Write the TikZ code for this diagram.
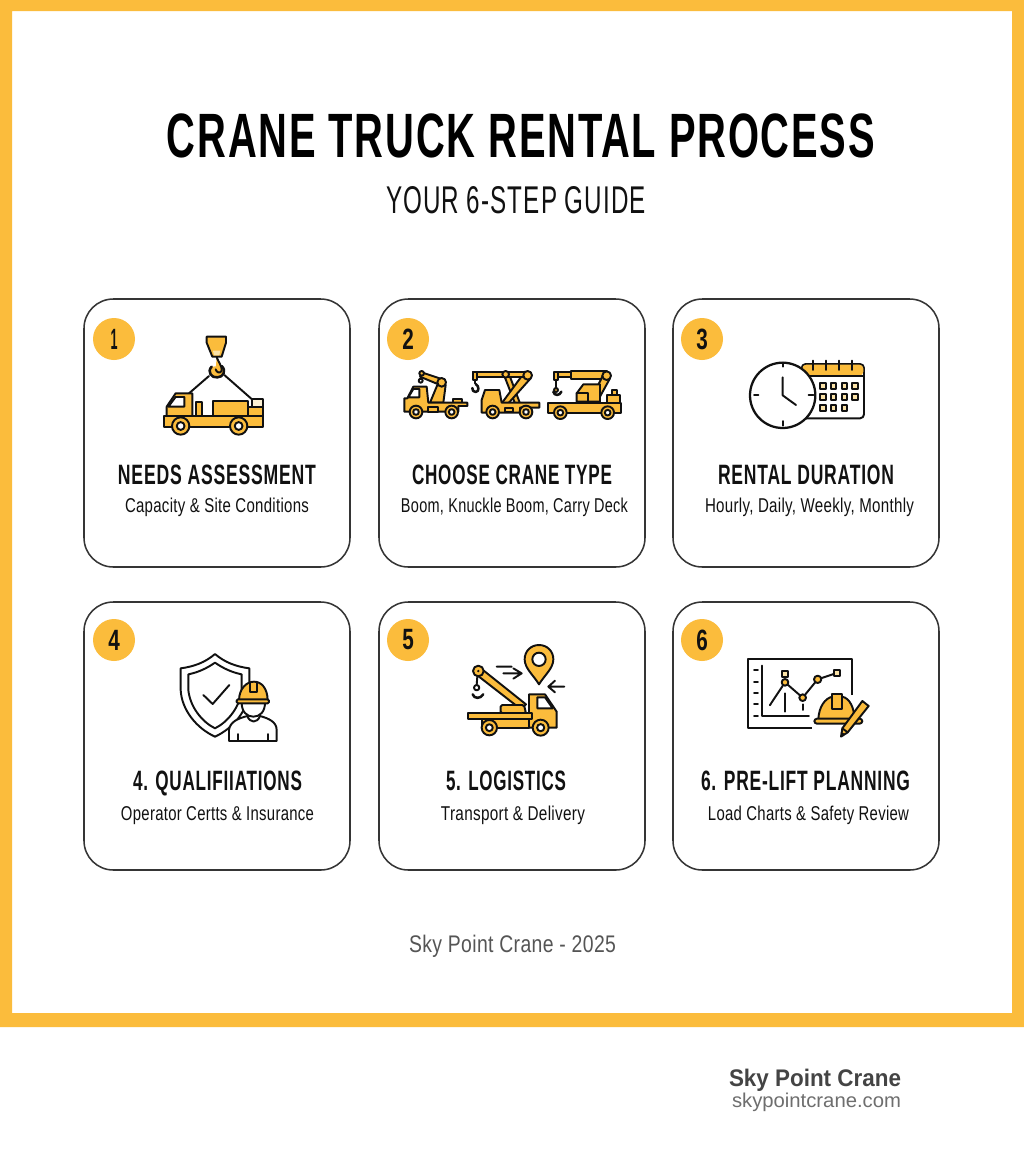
\documentclass[tikz,border=0pt]{standalone}
\usepackage{fontspec}
\setmainfont[LetterSpace=2]{Liberation Sans}
\newfontfamily\headfont[LetterSpace=4.5]{Liberation Sans}
\newfontfamily\brandfont{Liberation Sans}
\definecolor{amber}{HTML}{FBBC3C}
\definecolor{ink}{HTML}{111111}
\definecolor{pale}{HTML}{FBE3A8}
\definecolor{foot}{HTML}{555555}
\definecolor{brand}{HTML}{444444}
\definecolor{url}{HTML}{6E6E6E}
\newlength\pxu \pxu=0.75pt
\newcommand\fit[2]{\resizebox{#1\pxu}{\height}{#2}}
\tikzset{
  ln/.style={draw=ink,line width=1.45pt,line join=round,line cap=round},
  am/.style={ln,fill=amber},
  wh/.style={ln,fill=white},
  icon/.style={shift={(#1)},scale=1/3},
  card/.style={draw=ink!85,line width=1.15pt,fill=white,rounded corners=22pt,minimum width=199.5pt,minimum height=201pt,inner sep=0pt},
  badge/.style={circle,fill=amber,minimum size=31.5pt,inner sep=0pt,text=ink},
  ctitle/.style={anchor=base,inner sep=0pt,text=ink,font=\headfont\bfseries\fontsize{21}{22}\selectfont},
  csub/.style={anchor=base,inner sep=0pt,text=ink,font=\fontsize{15}{16}\selectfont},
}
\newcommand\wheelat[3]{\fill[ln,fill=amber] (#1,#2) circle (#3); \fill[ln,fill=white] (#1,#2) circle ({#3*0.45});}
\newcommand\digit[1]{\fit{11.5}{\bfseries\fontsize{22}{22}\selectfont #1}}
\begin{document}
\begin{tikzpicture}[x=0.75pt,y=-0.75pt]
\useasboundingbox (0,0) rectangle (1024,1154);
\fill[white] (0,0) rectangle (1024,1154);
\fill[amber,even odd rule] (0,0) rectangle (1024,1027) (12,11) rectangle (1012,1013);
\node[anchor=base,inner sep=0pt,text=black,font=\headfont\bfseries\fontsize{47}{52}\selectfont] (title) at (521,157) {\fit{708}{CRANE TRUCK RENTAL PROCESS}};
\node[anchor=base,inner sep=0pt,text=ink,font=\headfont\fontsize{29}{32}\selectfont] (subtitle) at (516,213) {\fit{260}{YOUR 6-STEP GUIDE}};
% cards
\node[card] (c1) at (217,433) {};
\node[card] (c2) at (512,433) {};
\node[card] (c3) at (806,433) {};
\node[card] (c4) at (217,736) {};
\node[card] (c5) at (512,736) {};
\node[card] (c6) at (806,736) {};
\node[badge] (b1) at (114,339) {\fit{7}{\bfseries\fontsize{22}{22}\selectfont 1}};
\node[badge] (b2) at (408,339) {\digit{2}};
\node[badge] (b3) at (702,339) {\digit{3}};
\node[badge] (b4) at (114,640) {\digit{4}};
\node[badge] (b5) at (408,640) {\digit{5}};
\node[badge] (b6) at (702,640) {\digit{6}};
\node[ctitle] (t1) at (217,484) {\fit{198}{NEEDS ASSESSMENT}};
\node[csub] (s1) at (217,512) {\fit{184}{Capacity \& Site Conditions}};
\node[ctitle] (t2) at (512,484) {\fit{200}{CHOOSE CRANE TYPE}};
\node[csub] (s2) at (514.5,512) {\fit{227}{Boom, Knuckle Boom, Carry Deck}};
\node[ctitle] (t3) at (806,484) {\fit{176}{RENTAL DURATION}};
\node[csub] (s3) at (809.5,512) {\fit{209}{Hourly, Daily, Weekly, Monthly}};
\node[ctitle] (t4) at (217.5,790) {\fit{169}{4. QUALIFIIATIONS}};
\node[csub] (s4) at (217.5,820) {\fit{193}{Operator Certts \& Insurance}};
\node[ctitle] (t5) at (506,790) {\fit{120}{5. LOGISTICS}};
\node[csub] (s5) at (513,820) {\fit{144}{Transport \& Delivery}};
\node[ctitle] (t6) at (805.5,790) {\fit{209}{6. PRE-LIFT PLANNING}};
\node[csub] (s6) at (808.5,820) {\fit{201}{Load Charts \& Safety Review}};
\node[anchor=base,inner sep=0pt,text=foot,font=\fontsize{18}{20}\selectfont] (footer) at (512.5,952) {\fit{207}{Sky Point Crane - 2025}};
\node[anchor=base,inner sep=0pt,text=brand,font=\brandfont\bfseries\fontsize{18}{20}\selectfont] (brandname) at (815,1086) {\fit{172}{Sky Point Crane}};
\node[anchor=base,inner sep=0pt,text=url,font=\brandfont\fontsize{15}{16}\selectfont] (brandurl) at (816.5,1107) {\fit{169}{skypointcrane.com}};

% ICON 1
\begin{scope}[icon={85,300}]
\draw[am] (365,110) -- (423,110) -- (423,128) -- (410,170) -- (382,170) -- (365,128) -- cycle;
\fill[pale] (384,152) -- (406,152) -- (403,166) -- (387,166) -- cycle;
\draw[ln] (372,228) -- (312,280) (418,225) -- (500,297);
\draw[am,line width=1.9pt] (380,200) .. controls (365,215) and (380,235) .. (397,232) .. controls (415,232) and (425,212) .. (410,198);
\draw[ln,fill=amber] (395,172) .. controls (400,185) and (412,200) .. (410,212) .. controls (405,222) and (395,218) .. (392,208);
\draw[am] (245,348) -- (245,320) -- (272,280) -- (322,280) -- (322,348) -- cycle;
\draw[wh] (250,320) -- (272,291) -- (298,291) -- (298,320) -- cycle;
\draw[am] (332,305) rectangle (350,348);
\draw[am] (385,302) rectangle (490,348);
\draw[am] (490,322) rectangle (535,348);
\draw[ln,fill=pale!50] (502,298) rectangle (535,322);
\draw[am] (237,348) rectangle (535,380);
\wheelat{287}{378}{26}
\wheelat{461}{378}{26}
\end{scope}

% ICON 2
\begin{scope}[icon={380,340}]
% truck A
\draw[am] (125,97) -- (188,118) -- (180,135) -- (120,110) -- cycle;
\draw[am] (150,188) -- (172,135) -- (197,135) -- (190,188) -- cycle;
\draw[am] (185,127) circle (13);
\draw[am] (125,100) circle (7);
\draw[wh] (122,122) circle (6);
\draw[am] (220,178) rectangle (245,188);
\draw[am] (73,215) -- (73,175) -- (82,175) -- (100,140) -- (140,140) -- (145,188) -- (262,188) -- (262,198) -- (235,198) -- (235,215) -- cycle;
\draw[wh] (85,172) -- (100,147) -- (118,147) -- (118,172) -- cycle;
\draw[am] (145,200) rectangle (175,215);
\wheelat{108}{216}{19}
\wheelat{215}{216}{19}
% truck B
\draw[am] (370,100) -- (385,97) -- (420,190) -- (405,190) -- cycle;
\draw[am] (435,95) -- (452,115) -- (385,190) -- (365,190) -- cycle;
\draw[am] (280,97) rectangle (445,112);
\draw[am] (377,103) circle (10);
\draw[am] (443,106) circle (13);
\draw[am] (279,95) rectangle (290,120);
\draw[ln] (285,120) -- (285,130);
\draw[ln,line width=1.9pt] (287,132) .. controls (298,138) and (298,155) .. (287,156) .. controls (280,156) and (276,150) .. (277,144);
\draw[am] (305,215) -- (305,180) -- (315,150) -- (358,150) -- (365,188) -- (478,188) -- (478,203) -- (420,203) -- (420,218) -- (305,218) -- cycle;
\draw[am] (375,203) rectangle (400,216);
\wheelat{338}{216}{19}
\wheelat{438}{216}{19}
% truck C
\draw[am] (525,97) rectangle (575,112);
\draw[am] (522,95) rectangle (533,120);
\draw[ln] (528,120) -- (528,142);
\draw[am] (528,150) circle (6);
\draw[ln,line width=1.9pt] (520,155) .. controls (522,168) and (540,168) .. (544,155);
\draw[am] (572,92) -- (680,92) -- (680,118) -- (572,118) -- cycle;
\draw[am] (672,100) -- (690,115) -- (650,188) -- (628,188) -- cycle;
\draw[am] (680,107) circle (13);
\draw[am] (590,185) -- (590,160) -- (610,133) -- (660,133) -- (660,185) -- cycle;
\draw[ln] (590,160) -- (625,160) -- (625,185);
\draw[am] (695,150) rectangle (710,165);
\draw[am] (680,165) rectangle (720,190);
\draw[am] (505,190) -- (722,190) -- (722,218) -- (505,218) -- cycle;
\wheelat{541}{218}{19}
\wheelat{683}{218}{19}
\end{scope}

% ICON 3
\begin{scope}[icon={730,340}]
\draw[wh,rounded corners=3pt] (215,72) rectangle (402,235);
\fill[amber,rounded corners=3pt] (217,74) rectangle (400,107);
\draw[ln] (215,108) -- (402,108);
\foreach \cx in {250,289,328,366} \draw[ln] (\cx,62) -- (\cx,90);
\foreach \rowy/\cols in {138/{279,311,343,375},171/{279,311,343,375},204/{279,311,343}}
  \foreach \cx in \cols \draw[ln,fill=pale] (\cx-8,\rowy-8) rectangle (\cx+8,\rowy+8);
\draw[wh,line width=1.7pt] (158,166) circle (98);
\draw[ln] (158,68) -- (158,80) (158,243) -- (158,257) (72,166) -- (85,166) (236,166) -- (250,166);
\draw[ln] (158,112) -- (158,166) -- (198,195);
\end{scope}

% ICON 4
\begin{scope}[icon={160,640}]
\draw[wh] (165,42) .. controls (135,68) and (100,80) .. (62,85) -- (62,150) .. controls (65,210) and (110,265) .. (165,290) .. controls (220,265) and (265,210) .. (268,150) -- (268,85) .. controls (230,80) and (195,68) .. (165,42) -- cycle;
\draw[ln] (165,68) .. controls (140,85) and (115,97) .. (85,103) -- (85,150) .. controls (90,200) and (125,245) .. (165,265) .. controls (205,245) and (240,200) .. (245,150) -- (245,103) .. controls (215,97) and (190,85) .. (165,68) -- cycle;
\draw[ln] (130,165) -- (158,192) -- (208,135);
\draw[wh] (207,303) -- (207,270) .. controls (210,245) and (235,235) .. (262,228) .. controls (270,250) and (292,250) .. (300,228) .. controls (325,235) and (350,245) .. (350,270) -- (350,303) -- cycle;
\draw[ln] (235,282) -- (235,303) (325,282) -- (325,303);
\draw[wh] (245,188) .. controls (245,215) and (260,230) .. (280,230) .. controls (300,230) and (315,215) .. (315,188);
\draw[am] (237,180) .. controls (238,145) and (260,125) .. (282,125) .. controls (305,125) and (322,145) .. (323,180) -- cycle;
\draw[ln] (271,128) -- (271,156) -- (291,156) -- (291,128);
\draw[am,rounded corners=1pt] (230,178) rectangle (327,190);
\end{scope}

% ICON 5
\begin{scope}[icon={450,635}]
\draw[am] (267,148) .. controls (250,120) and (224,100) .. (224,73) .. controls (224,48) and (243,30) .. (267,30) .. controls (291,30) and (310,48) .. (310,73) .. controls (310,100) and (284,120) .. (267,148) -- cycle;
\draw[wh] (267,73) circle (20);
\draw[ln] (140,95) -- (185,95) (160,115) -- (215,115) (190,100) -- (215,115) -- (190,131);
\draw[ln] (343,155) -- (295,155) (315,137) -- (295,155) -- (315,172);
\draw[am] (90,98) -- (228,208) -- (212,222) -- (78,118) -- cycle;
\draw[am] (85,108) circle (16);
\fill[ink] (85,108) circle (4);
\draw[ln] (82,124) -- (80,150);
\draw[wh] (80,158) circle (8);
\draw[ln,line width=1.9pt] (68,178) .. controls (72,192) and (92,192) .. (100,178);
\draw[am] (237,278) -- (237,178) -- (285,178) -- (320,230) -- (320,278) -- cycle;
\draw[wh] (262,187) -- (285,187) -- (308,220) -- (262,220) -- cycle;
\draw[am,rounded corners=1.2pt] (152,235) -- (152,210) -- (222,210) -- (228,235) -- cycle;
\draw[am] (55,235) rectangle (245,252);
\draw[am] (95,252) rectangle (237,278);
\wheelat{118}{278}{23}
\wheelat{272}{278}{24}
\end{scope}

% ICON 6
\begin{scope}[icon={735,645}]
\draw[ln,line cap=butt] (352,150) -- (352,42) -- (40,42) -- (40,248) -- (232,248);
\draw[ln] (80,62) -- (80,212) -- (222,212);
\foreach \ty in {75,110,145,178,212} \draw[ln] (57,\ty) -- (69,\ty);
\draw[ln] (150,145) -- (150,200) (203,178) -- (203,195);
\draw[ln] (105,180) -- (150,112) -- (203,158) -- (248,103) -- (305,84);
\fill[ink] (105,180) circle (3);
\draw[am] (150,112) circle (10);
\draw[am] (203,158) circle (10);
\draw[am] (248,103) circle (11);
\draw[ln,fill=pale] (141,79) rectangle (159,97);
\draw[ln,fill=pale] (296,75) rectangle (315,94);
\draw[am] (250,222) .. controls (252,185) and (270,160) .. (292,155) -- (322,155) .. controls (345,160) and (358,190) .. (358,222) -- cycle;
\draw[am] (291,147) rectangle (322,192);
\draw[am,rounded corners=2pt] (238,221) rectangle (382,236);
\draw[am] (382,168) -- (401,183) -- (338,262) -- (318,275) -- (322,250) -- cycle;
\draw[ln] (322,250) -- (338,262);
\fill[ink] (318,275) -- (322,262) -- (331,268) -- cycle;
\end{scope}
\end{tikzpicture}
\end{document}
